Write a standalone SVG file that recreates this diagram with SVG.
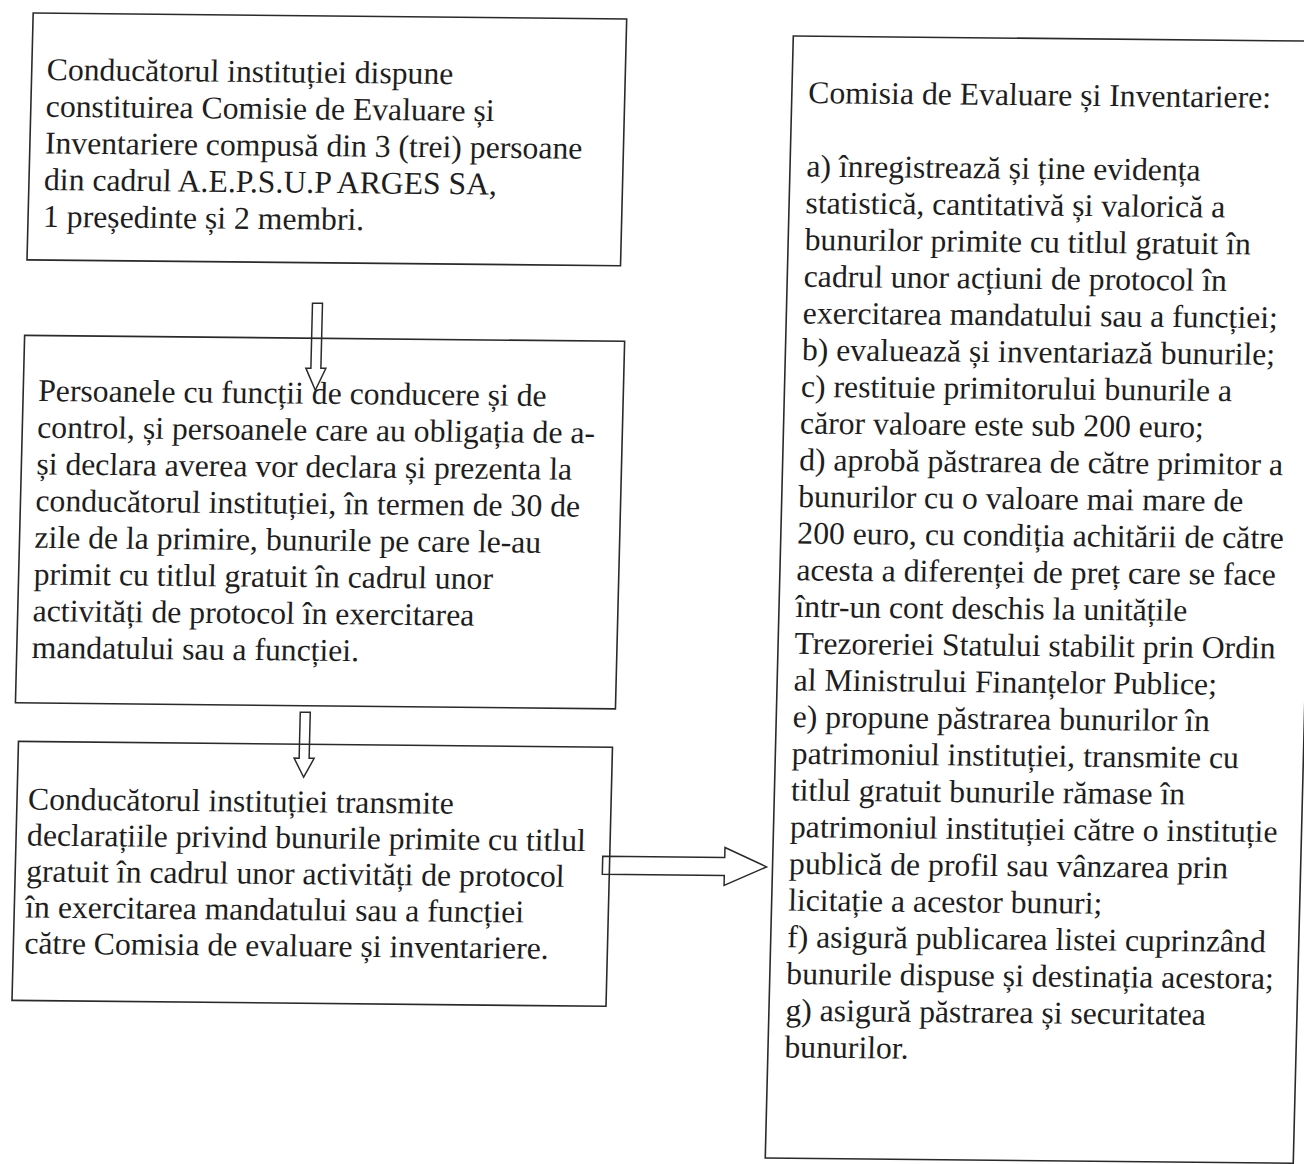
<svg xmlns="http://www.w3.org/2000/svg" width="1304" height="1164" viewBox="0 0 1304 1164">
<style>
.box{fill:none;stroke:#2a2a2a;stroke-width:1.6}
.arr{fill:none;stroke:#2a2a2a;stroke-width:1.5;stroke-linejoin:miter}
text{font-family:"Liberation Serif","Times New Roman",serif;font-size:31.7px;fill:#1e1e1e}
</style>
<rect width="1304" height="1164" fill="#ffffff"/>
<g transform="matrix(1,0.01,-0.025,1,0,0)">
<g id="node-constituire">
<rect class="box" x="33.5" y="12.7" width="593.5" height="246.8"/>
<text x="48.5" y="79.5">Conducătorul instituției dispune</text>
<text x="48.5" y="116.2">constituirea Comisie de Evaluare și</text>
<text x="48.5" y="152.9">Inventariere compusă din 3 (trei) persoane</text>
<text x="48.5" y="189.6">din cadrul A.E.P.S.U.P ARGES SA,</text>
<text x="48.5" y="226.3">1 președinte și 2 membri.</text>
</g>
<g id="node-declarare">
<rect class="box" x="33" y="335" width="600" height="367.5"/>
<text x="48" y="400.5">Persoanele cu funcții de conducere și de</text>
<text x="48" y="437.2">control, și persoanele care au obligația de a-</text>
<text x="48" y="473.9">și declara averea vor declara și prezenta la</text>
<text x="48" y="510.6">conducătorul instituției, în termen de 30 de</text>
<text x="48" y="547.3">zile de la primire, bunurile pe care le-au</text>
<text x="48" y="584">primit cu titlul gratuit în cadrul unor</text>
<text x="48" y="620.7">activități de protocol în exercitarea</text>
<text x="48" y="657.4">mandatului sau a funcției.</text>
</g>
<g id="node-transmitere">
<rect class="box" x="37" y="741" width="594" height="259"/>
<text x="48" y="809">Conducătorul instituției transmite</text>
<text x="48" y="845">declarațiile privind bunurile primite cu titlul</text>
<text x="48" y="881">gratuit în cadrul unor activități de protocol</text>
<text x="48" y="917">în exercitarea mandatului sau a funcției</text>
<text x="48" y="953">către Comisia de evaluare și inventariere.</text>
</g>
<g id="node-comisie">
<rect class="box" x="794" y="28" width="528" height="1122"/>
<text x="810.5" y="95">Comisia de Evaluare și Inventariere:</text>
<text x="810.5" y="168.5">a) înregistrează și ține evidența</text>
<text x="810.5" y="205.2">statistică, cantitativă și valorică a</text>
<text x="810.5" y="241.9">bunurilor primite cu titlul gratuit în</text>
<text x="810.5" y="278.6">cadrul unor acțiuni de protocol în</text>
<text x="810.5" y="315.3">exercitarea mandatului sau a funcției;</text>
<text x="810.5" y="352">b) evaluează și inventariază bunurile;</text>
<text x="810.5" y="388.7">c) restituie primitorului bunurile a</text>
<text x="810.5" y="425.4">căror valoare este sub 200 euro;</text>
<text x="810.5" y="462.1">d) aprobă păstrarea de către primitor a</text>
<text x="810.5" y="498.8">bunurilor cu o valoare mai mare de</text>
<text x="810.5" y="535.5">200 euro, cu condiția achitării de către</text>
<text x="810.5" y="572.2">acesta a diferenței de preț care se face</text>
<text x="810.5" y="608.9">într-un cont deschis la unitățile</text>
<text x="810.5" y="645.6">Trezoreriei Statului stabilit prin Ordin</text>
<text x="810.5" y="682.3">al Ministrului Finanțelor Publice;</text>
<text x="810.5" y="719">e) propune păstrarea bunurilor în</text>
<text x="810.5" y="755.7">patrimoniul instituției, transmite cu</text>
<text x="810.5" y="792.4">titlul gratuit bunurile rămase în</text>
<text x="810.5" y="829.1">patrimoniul instituției către o instituție</text>
<text x="810.5" y="865.8">publică de profil sau vânzarea prin</text>
<text x="810.5" y="902.5">licitație a acestor bunuri;</text>
<text x="810.5" y="939.2">f) asigură publicarea listei cuprinzând</text>
<text x="810.5" y="975.9">bunurile dispuse și destinația acestora;</text>
<text x="810.5" y="1012.6">g) asigură păstrarea și securitatea</text>
<text x="810.5" y="1049.3">bunurilor.</text>
</g>
<g id="connectors">
<polygon class="arr" points="320,300 330,300 330,365 335,365 325,387 315,365 320,365"/>
<polygon class="arr" points="318,709 328,709 328,755 333,755 323,774 313,755 318,755"/>
<polygon class="arr" points="624,850 746,850 746,840 788,859 746,878 746,868 624,868"/>
</g>
</g>
</svg>
